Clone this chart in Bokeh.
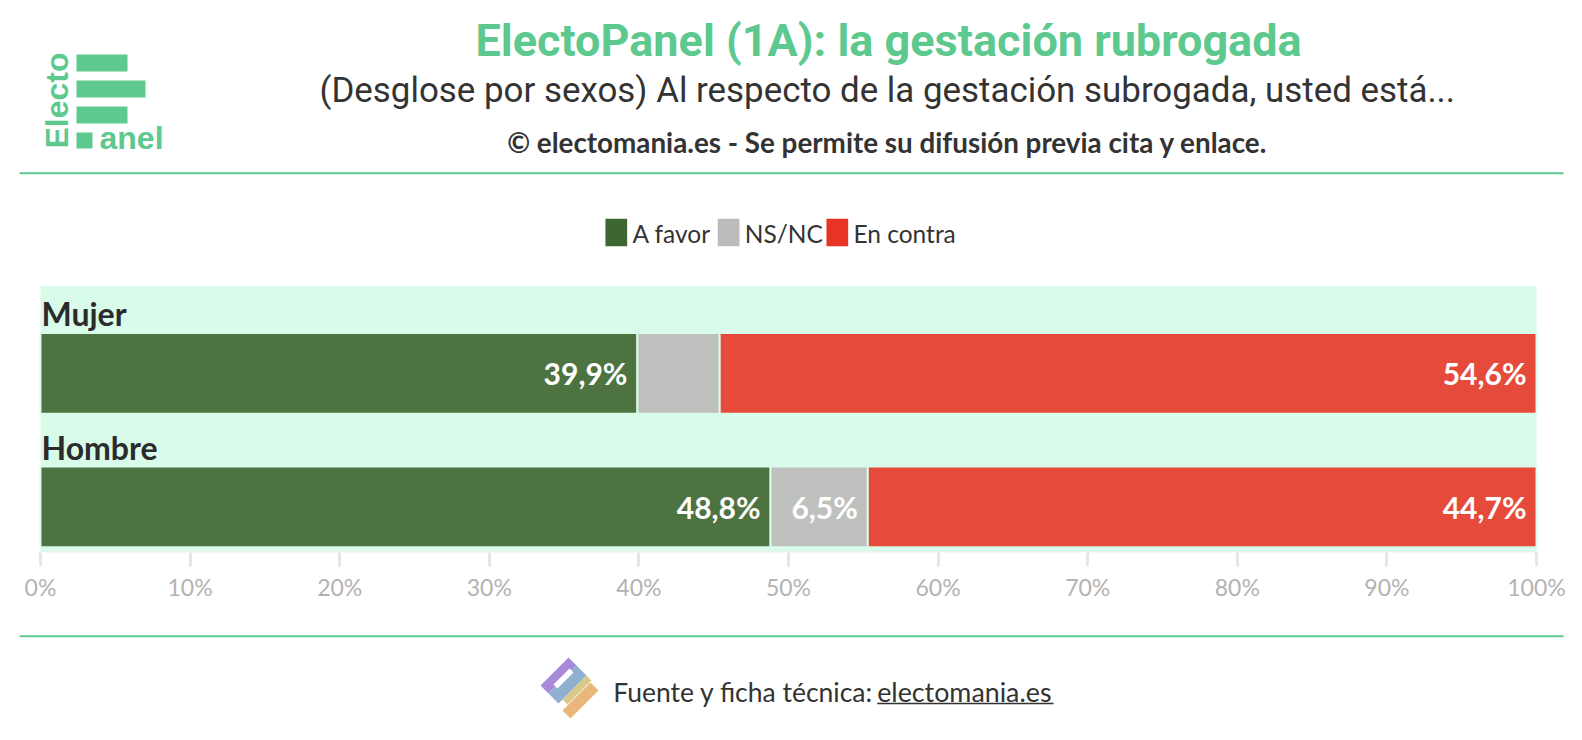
import math
from bokeh.plotting import figure
from bokeh.models import Range1d, FixedTicker, PrintfTickFormatter, ColumnDataSource
from bokeh.layouts import column
from bokeh.core.properties import value
from bokeh.embed import file_html
from bokeh.resources import INLINE

# ---------------- data ----------------
groups = ["Mujer", "Hombre"]
categories = ["A favor", "NS/NC", "En contra"]
a_favor = [39.9, 48.8]
ns_nc = [5.5, 6.5]
en_contra = [54.6, 44.7]
tick_values = [0, 10, 20, 30, 40, 50, 60, 70, 80, 90, 100]

title_text = "ElectoPanel (1A): la gestación rubrogada"
subtitle_text = "(Desglose por sexos) Al respecto de la gestación subrogada, usted está..."
credit_text = "© electomania.es - Se permite su difusión previa cita y enlace."
footer_text = "Fuente y ficha técnica:"
footer_link = "electomania.es"

# ---------------- styles ----------------
W = 1566
BRAND = "#5ec98f"
BAND = "#d8fbea"
DARK = "#333333"
bar_colors = ["#4d7440", "#bec0be", "#e64a3b"]
legend_colors = ["#3e6630", "#bbbbbb", "#e83424"]
TITLE_FONT = value("Roboto")
BODY = value("Lato")
LOGO_FONT = value("Liberation Sans")


def blank(height, y_top, y_bottom):
    p = figure(width=W, height=height, x_range=Range1d(0, W),
               y_range=Range1d(y_bottom, y_top), output_backend="svg",
               toolbar_location=None, min_border=0, title=None,
               x_axis_location=None, y_axis_location=None)
    p.grid.visible = False
    p.outline_line_color = None
    p.background_fill_color = "white"
    p.border_fill_color = "white"
    return p


# ---------------- header ----------------
head = blank(254, 0, 254)
# logo
head.quad(left=[76, 76, 76, 76], right=[127, 145, 127, 92],
          top=[54, 80, 106, 132], bottom=[71, 97, 123, 148],
          fill_color=BRAND, line_color=None)
head.text(x=[56], y=[148], text=["Electo"], angle=math.pi / 2,
          text_font=LOGO_FONT, text_font_style="bold", text_font_size="32px",
          text_color=BRAND, text_align="left", text_baseline="middle")
head.text(x=[99], y=[137], text=["anel"], text_font=LOGO_FONT,
          text_font_style="bold", text_font_size="32px", text_color=BRAND,
          text_align="left", text_baseline="middle")
# titles
head.text(x=[475], y=[40], text=[title_text], text_font=TITLE_FONT,
          text_font_style="bold", text_font_size="45px", text_color=BRAND,
          text_align="left", text_baseline="middle")
head.text(x=[319], y=[90], text=[subtitle_text], text_font=TITLE_FONT,
          text_font_size="34.9px", text_color=DARK,
          text_align="left", text_baseline="middle")
head.text(x=[506.7], y=[141.5], text=[credit_text], text_font=BODY,
          text_font_style="bold", text_font_size="27.8px", text_color=DARK,
          text_align="left", text_baseline="middle")
head.segment(x0=[19], x1=[1563], y0=[172.7], y1=[172.7], line_color=BRAND, line_width=2)
# legend
leg_x = [605, 717.3, 826]
head.rect(x=[x + 10.8 for x in leg_x], y=[232] * 3, width=21.7, height=27.4,
          fill_color=legend_colors, line_color=None)
head.text(x=[x + 27 for x in leg_x], y=[233] * 3, text=categories,
          text_font=BODY, text_font_size="24.5px", text_color=DARK,
          text_align="left", text_baseline="middle")

# ---------------- chart ----------------
PX0, PX100 = 40.0, 1536.0
ppu = (PX100 - PX0) / 100.0
chart = figure(width=W, height=366,
               x_range=Range1d(-PX0 / ppu, 100 + (W - PX100) / ppu),
               y_range=Range1d(2, 0),
               output_backend="svg", toolbar_location=None, title=None,
               min_border_left=0, min_border_right=0, min_border_top=31,
               min_border_bottom=68, y_axis_location=None)
chart.grid.visible = False
chart.outline_line_color = None
chart.background_fill_color = "white"
chart.border_fill_color = "white"

# row band (plot area background) and baseline
chart.quad(left=[0], right=[100], top=[0], bottom=[2], fill_color=BAND, line_color=None)
chart.quad(left=[0], right=[100], top=[1.988], bottom=[2], fill_color="#e6f2ec", line_color=None)

BAR_TOP, BAR_BOTTOM = 0.356, 0.96
series = [a_favor, ns_nc, en_contra]
idx = list(range(len(groups)))
starts = [0.0] * len(groups)
for k, vals in enumerate(series):
    lefts = starts[:]
    rights = [s + v for s, v in zip(starts, vals)]
    chart.quad(left=lefts, right=rights,
               top=[i + BAR_TOP for i in idx], bottom=[i + BAR_BOTTOM for i in idx],
               fill_color=bar_colors[k], line_color=BAND, line_width=2)
    shown = [i for i in idx if vals[i] >= 6]
    src = ColumnDataSource(dict(
        x=[rights[i] for i in shown],
        y=[i + (BAR_TOP + BAR_BOTTOM) / 2 for i in shown],
        t=[f"{vals[i]:.1f}".replace(".", ",") + "%" for i in shown]))
    chart.text(x="x", y="y", text="t", source=src, x_offset=-10,
               text_font=BODY, text_font_style="bold", text_font_size="30px",
               text_color="white", text_align="right", text_baseline="middle")
    starts = rights

chart.text(x=[0] * len(groups), y=[i + 0.21 for i in idx], text=groups, x_offset=1,
           text_font=BODY, text_font_style="bold", text_font_size="32px",
           text_color="#2b2b2b", text_align="left", text_baseline="middle")

ax = chart.xaxis[0]
ax.ticker = FixedTicker(ticks=tick_values)
ax.formatter = PrintfTickFormatter(format="%d%%")
ax.axis_line_color = None
ax.major_tick_line_color = "#e6e6e6"
ax.major_tick_line_width = 3
ax.major_tick_out = 14
ax.major_tick_in = 0
ax.minor_tick_line_color = None
ax.major_label_standoff = 6
ax.major_label_text_font = "Lato"
ax.major_label_text_font_size = "23px"
ax.major_label_text_color = "#b3b3b3"

# ---------------- footer ----------------
foot = blank(104, 620, 724)
foot.segment(x0=[19], x1=[1563], y0=[635.7], y1=[635.7], line_color=BRAND, line_width=2)
# icon
foot.patch(x=[540, 568, 576, 548], y=[685, 657, 665, 693], fill_color="#a98ad8", line_color=None)
foot.patch(x=[548, 576, 586, 558], y=[693, 665, 675, 703], fill_color="#8fb0cf", line_color=None)
foot.patch(x=[553, 569, 573, 557], y=[684, 668, 672, 688], fill_color="white", line_color=None)
foot.patch(x=[586, 591, 567, 562], y=[675, 680, 704, 699], fill_color="#d9c98a", line_color=None)
foot.patch(x=[590, 598, 570, 562], y=[682, 690, 718, 710], fill_color="#eab77a", line_color=None)
foot.patch(x=[562, 570, 566, 558], y=[710, 718, 714, 706], fill_color="#e88a6a", line_color=None)
foot.text(x=[612.7], y=[691.2], text=[footer_text], text_font=BODY,
          text_font_size="26.5px", text_color=DARK, text_align="left",
          text_baseline="middle")
foot.text(x=[876.7], y=[691.2], text=[footer_link], text_font=BODY,
          text_font_size="26.8px", text_color=DARK, text_align="left",
          text_baseline="middle")
foot.segment(x0=[876.7], x1=[1053], y0=[703], y1=[703], line_color=DARK, line_width=1.5)

layout = column(head, chart, foot, spacing=0)
open("out.html", "w").write(file_html(layout, INLINE))
